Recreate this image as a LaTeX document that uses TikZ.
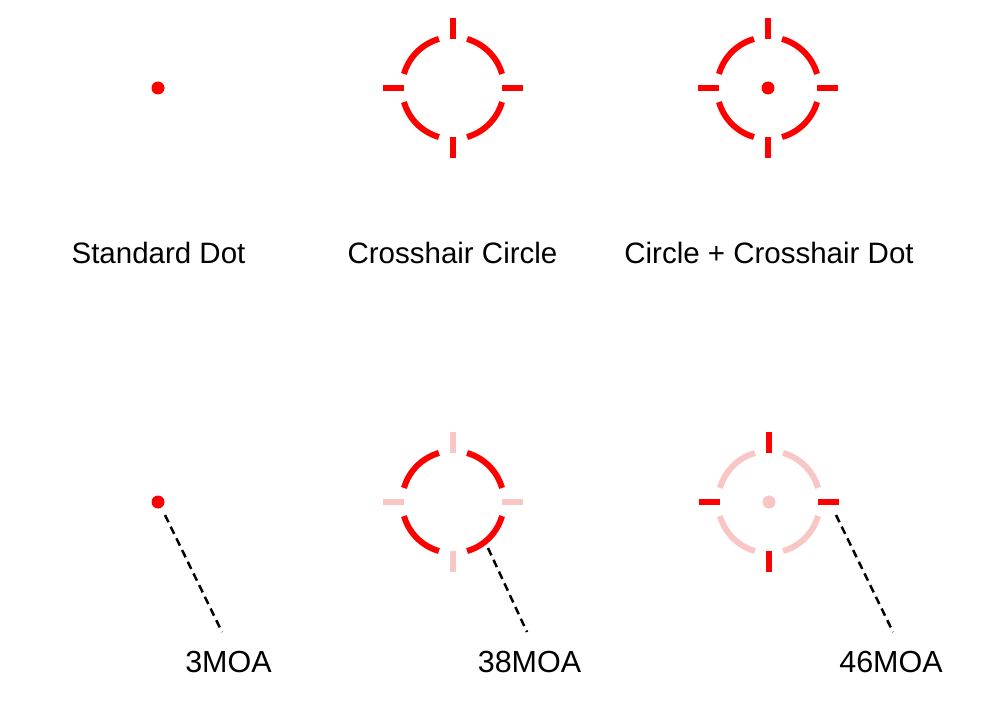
\documentclass[tikz,border=0pt]{standalone}
\usepackage{fontspec}
\setmainfont{Liberation Sans}
\definecolor{ret}{HTML}{FF0000}
\definecolor{pale}{HTML}{F9C6C6}
\tikzset{
  ring/.style={line width=6pt},
  tick/.style={line width=6pt},
  lbl/.style={font=\fontsize{29.5}{34}\selectfont, inner sep=0pt, text=black},
  mlbl/.style={font=\fontsize{30.5}{35}\selectfont, inner sep=0pt, text=black},
  leader/.style={line width=2.5pt, dash pattern=on 8pt off 5pt, black},
  pics/reticle/.style n args={3}{code={
    \foreach \a in {0,90,180,270}{
      \draw[ring,#1] (\a+16:51) arc[start angle=\a+16, end angle=\a+74, radius=51];
      \draw[tick,#2] (\a:49) -- (\a:70);
    }
    \fill[#3] (0,0) circle (6.5);
  }}
}
\begin{document}
\begin{tikzpicture}[x=1pt,y=-1pt]
\useasboundingbox[fill=white] (0,0) rectangle (1000,714);
% top row
\fill[ret] (158,88) circle (6.5);
\node[coordinate] (sd) at (158,88) {};
\pic (cc) at (453,88) {reticle={ret}{ret}{white,opacity=0}};
\pic (ccd) at (768,88) {reticle={ret}{ret}{ret}};
\node[lbl] (l1) at (158.5,253) {Standard Dot};
\node[lbl] (l2) at (452.5,253) {Crosshair Circle};
\node[lbl] (l3) at (769,253) {Circle + Crosshair Dot};
% bottom row
\fill[ret] (158,502) circle (6.5);
\pic (b2) at (453,502) {reticle={ret}{pale}{white,opacity=0}};
\pic (b3) at (769,502) {reticle={pale}{ret}{pale}};
\coordinate (s1) at (165,515);
\coordinate (e1) at (222,632);
\coordinate (s2) at (488,548);
\coordinate (e2) at (527,632);
\coordinate (s3) at (836,515);
\coordinate (e3) at (893,632);
\draw[leader] (s1) -- (e1);
\draw[leader] (s2) -- (e2);
\draw[leader] (s3) -- (e3);
\node[mlbl] (m1) at (228.5,662) {3MOA};
\node[mlbl] (m2) at (529.5,662) {38MOA};
\node[mlbl] (m3) at (891,662) {46MOA};
\end{tikzpicture}
\end{document}
